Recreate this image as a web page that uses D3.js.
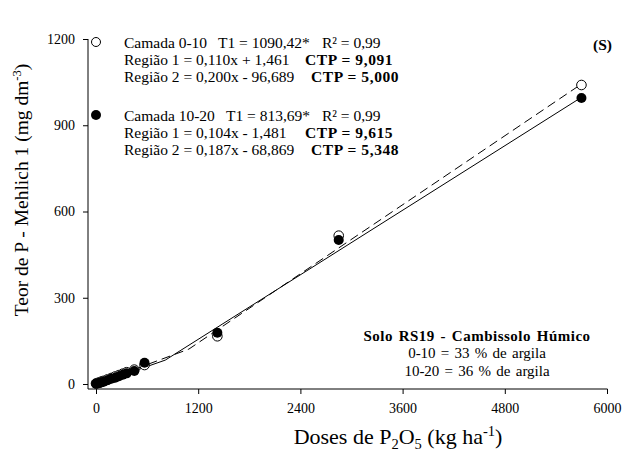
<!DOCTYPE html>
<html>
<head>
<meta charset="utf-8">
<script src="https://cdn.jsdelivr.net/npm/d3@7/dist/d3.min.js"></script>
<style>
  html, body { margin: 0; padding: 0; background: #fff; }
  svg { display: block; font-family: "Liberation Serif", "Times New Roman", serif; }
</style>
</head>
<body>
<svg id="chart" width="631" height="461"></svg>
<script>
// P2O5 doses (kg/ha)
const doses = [0, 22.5, 45, 67.5, 90, 135, 180, 225, 270, 315, 360, 450, 570, 1425, 2850, 5700];
// Mehlich-1 P (mg/dm3), layer 0-10 cm (open circles)
const layer0_10 = [2, 4, 6, 9, 11, 16, 21, 26, 31, 36, 41, 50, 66, 166, 516, 1040];
// Mehlich-1 P (mg/dm3), layer 10-20 cm (filled circles)
const layer10_20 = [1, 2, 4, 6, 8, 13, 18, 22, 27, 32, 37, 45, 74, 178, 501, 995];

// Segmented fits: [slope, intercept] for region 1 and region 2, and breakpoint T1
const fit0_10 = { t1: 1090.42, r1: [0.110, 1.461], r2: [0.200, -96.689] };
const fit10_20 = { t1: 813.69, r1: [0.104, -1.481], r2: [0.187, -68.869] };
const ctp0_10 = ["9,091", "5,000"];
const ctp10_20 = ["9,615", "5,348"];

const xTicks = [0, 1200, 2400, 3600, 4800, 6000];
const yTicks = [0, 300, 600, 900, 1200];

const svg = d3.select("#chart");
svg.append("rect").attr("width", 631).attr("height", 461).attr("fill", "#fff");

const x = d3.scaleLinear().domain([0, 6000]).range([96, 607]);
const y = d3.scaleLinear().domain([0, 1200]).range([384, 39]);

const axisX = 389, axisY = 88;

// axes
const gx = svg.append("g").attr("transform", `translate(0,${axisX})`)
  .call(d3.axisBottom(x).tickValues(xTicks).tickSize(5).tickPadding(9).tickFormat(d3.format("d")));
const gy = svg.append("g").attr("transform", `translate(${axisY},0)`)
  .call(d3.axisLeft(y).tickValues(yTicks).tickSize(5).tickPadding(8).tickFormat(d3.format("d")));
[gx, gy].forEach(g => {
  g.select(".domain").remove();
  g.selectAll("line").attr("stroke", "#000").attr("stroke-width", 1);
  g.selectAll("text").attr("font-family", "Liberation Serif").attr("font-size", 14).attr("fill", "#000");
});
svg.append("line").attr("x1", axisY).attr("x2", x(6000) + 0.5).attr("y1", axisX).attr("y2", axisX)
  .attr("stroke", "#000").attr("stroke-width", 1);
svg.append("line").attr("x1", axisY).attr("x2", axisY).attr("y1", y(1200)).attr("y2", axisX)
  .attr("stroke", "#000").attr("stroke-width", 1);

// fitted segmented lines
const xMax = d3.max(doses);
function fitPoints(f) {
  const f1 = v => f.r1[0] * v + f.r1[1];
  const f2 = v => f.r2[0] * v + f.r2[1];
  return [[0, f1(0)], [f.t1, f1(f.t1)], [xMax, f2(xMax)]];
}
const line = d3.line().x(d => x(d[0])).y(d => y(d[1]));
svg.append("path").attr("d", line(fitPoints(fit0_10)))
  .attr("fill", "none").attr("stroke", "#000").attr("stroke-width", 1).attr("stroke-dasharray", "9,5");
svg.append("path").attr("d", line(fitPoints(fit10_20)))
  .attr("fill", "none").attr("stroke", "#000").attr("stroke-width", 1);

// observed points
svg.append("g").selectAll("circle").data(doses).join("circle")
  .attr("cx", d => x(d)).attr("cy", (d, i) => y(layer0_10[i])).attr("r", 4.8)
  .attr("fill", "#fff").attr("stroke", "#000").attr("stroke-width", 1);
svg.append("g").selectAll("circle").data(doses).join("circle")
  .attr("cx", d => x(d)).attr("cy", (d, i) => y(layer10_20[i])).attr("r", 5)
  .attr("fill", "#000");

// legend symbols
svg.append("circle").attr("cx", 96).attr("cy", 42).attr("r", 4.5)
  .attr("fill", "#fff").attr("stroke", "#000");
svg.append("circle").attr("cx", 96).attr("cy", 115).attr("r", 5).attr("fill", "#000");

// annotation text
const fmt = v => v.toFixed(3).replace(".", ",");
function eq(r) {
  const s = r[1] < 0 ? " - " : " + ";
  return fmt(r[0]) + "x" + s + fmt(Math.abs(r[1]));
}
function block(y0, label, f, ctp, t1x) {
  const t1 = f.t1.toFixed(2).replace(".", ",");
  const g = svg.append("g").attr("font-size", 15.5);
  g.append("text").attr("x", 124).attr("y", y0).text(`Camada ${label}`);
  g.append("text").attr("x", t1x).attr("y", y0).text(`T1 = ${t1}*`);
  g.append("text").attr("x", 322).attr("y", y0).text("R² = 0,99");
  [f.r1, f.r2].forEach((r, i) => {
    const yy = y0 + 17 * (i + 1);
    g.append("text").attr("x", 124).attr("y", yy).text(`Região ${i + 1} = ${eq(r)}`);
    g.append("text").attr("x", i === 0 ? 305 : 311).attr("y", yy)
      .attr("font-weight", "bold").attr("letter-spacing", 0.6).text(`CTP = ${ctp[i]}`);
  });
}
block(48, "0-10", fit0_10, ctp0_10, 218);
block(121, "10-20", fit10_20, ctp10_20, 226);

svg.append("text").attr("x", 612).attr("y", 50).attr("text-anchor", "end")
  .attr("font-size", 15.5).attr("font-weight", "bold").text("(S)");

const info = svg.append("g").attr("font-size", 15).attr("text-anchor", "middle").attr("word-spacing", 1.5);
info.append("text").attr("x", 477).attr("y", 341).attr("font-weight", "bold").attr("letter-spacing", 0.5)
  .text("Solo RS19 - Cambissolo Húmico");
info.append("text").attr("x", 477).attr("y", 358).text("0-10 = 33 % de argila");
info.append("text").attr("x", 477).attr("y", 376).text("10-20 = 36 % de argila");

// axis titles
const xt = svg.append("text").attr("x", 398).attr("y", 444).attr("text-anchor", "middle").attr("font-size", 22);
xt.append("tspan").text("Doses de P");
xt.append("tspan").attr("font-size", 14.5).attr("dy", 5).text("2");
xt.append("tspan").attr("dy", -5).text("O");
xt.append("tspan").attr("font-size", 14.5).attr("dy", 5).text("5");
xt.append("tspan").attr("dy", -5).text(" (kg ha");
xt.append("tspan").attr("font-size", 14.5).attr("dy", -8).text("-1");
xt.append("tspan").attr("dy", 8).text(")");

const yt = svg.append("text").attr("transform", "translate(28,190) rotate(-90)")
  .attr("text-anchor", "middle").attr("font-size", 19.5);
yt.append("tspan").text("Teor de P - Mehlich 1 (mg dm");
yt.append("tspan").attr("font-size", 12.5).attr("dy", -7).text("-3");
yt.append("tspan").attr("dy", 7).text(")");
</script>
</body>
</html>
